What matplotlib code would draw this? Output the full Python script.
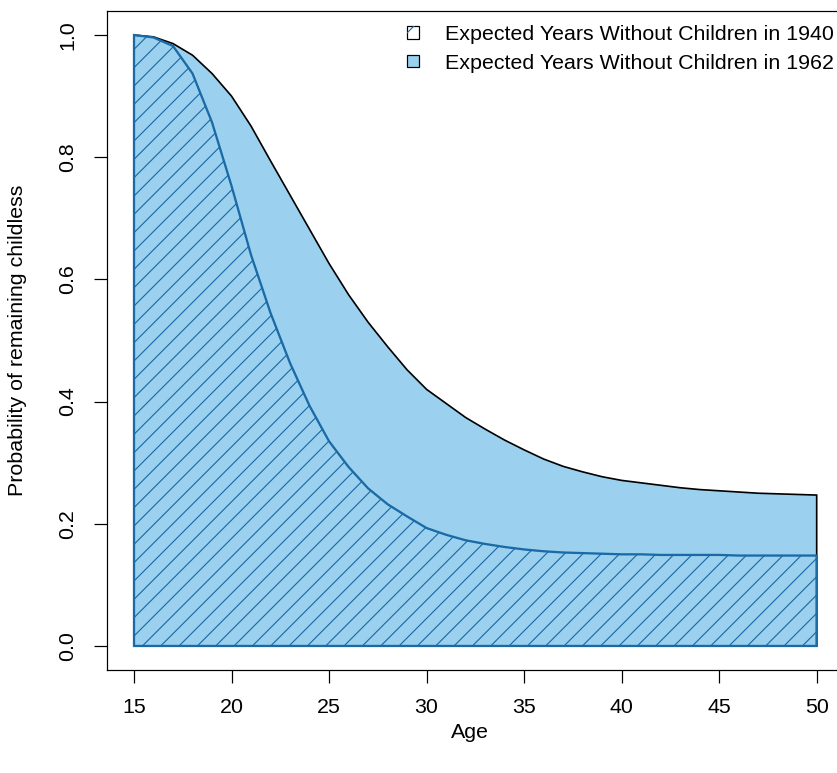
import matplotlib
matplotlib.use("Agg")
import matplotlib.pyplot as plt
from matplotlib.patches import Patch
import numpy as np

plt.rcParams['font.family'] = ['Liberation Sans', 'DejaVu Sans']
plt.rcParams['hatch.linewidth'] = 0.75

# ages and probability of remaining childless
ages = list(range(15, 51))
p1962 = [1.000, 0.997, 0.986, 0.967, 0.937, 0.900, 0.851, 0.794, 0.738, 0.682,
         0.626, 0.575, 0.530, 0.490, 0.452, 0.420, 0.397, 0.374, 0.355, 0.337,
         0.321, 0.306, 0.294, 0.285, 0.277, 0.271, 0.267, 0.263, 0.259, 0.256,
         0.254, 0.252, 0.250, 0.249, 0.248, 0.247]
p1940 = [1.000, 0.996, 0.982, 0.937, 0.857, 0.753, 0.640, 0.545, 0.463, 0.393,
         0.335, 0.293, 0.258, 0.232, 0.212, 0.193, 0.182, 0.173, 0.167, 0.162,
         0.158, 0.155, 0.153, 0.152, 0.151, 0.150, 0.150, 0.149, 0.149, 0.149,
         0.149, 0.148, 0.148, 0.148, 0.148, 0.148]
xticks = [15, 20, 25, 30, 35, 40, 45, 50]
yticks = [0.0, 0.2, 0.4, 0.6, 0.8, 1.0]
labels = ["Expected Years Without Children in 1940",
          "Expected Years Without Children in 1962"]

light = "#9BD1EF"
blue = "#1A6AA6"
fs = 14

W, H, dpi = 837, 773, 110
fig = plt.figure(figsize=(W / dpi, H / dpi), dpi=dpi)
ax = fig.add_axes([106.7 / W, 1 - 670.4 / H, (844 - 106.7) / W, (670.4 - 10.6) / H])

x = np.array(ages, dtype=float)
y62 = np.array(p1962)
y40 = np.array(p1940)

# polygons closed down to zero, like R's polygon()
px = np.concatenate([[x[0]], x, [x[-1]]])
ax.fill(px, np.concatenate([[0], y62, [0]]), facecolor=light, edgecolor="black", lw=1.1)
ax.fill(px, np.concatenate([[0], y40, [0]]), facecolor="none", edgecolor=blue, lw=1.5, hatch="//")

ax.set_xlim(13.6, 51.4)
ax.set_ylim(-0.04, 1.04)
ax.set_xticks(xticks)
ax.set_xticklabels([str(t) for t in xticks])
ax.set_yticks(yticks)
ax.set_yticklabels(["%.1f" % t for t in yticks], rotation=90, va="center")
ax.tick_params(length=8.3, width=0.8, labelsize=fs)
ax.tick_params(axis="x", pad=10)
ax.tick_params(axis="y", pad=11)
for s in ax.spines.values():
    s.set_linewidth(0.8)

fig.text(470 / W, 1 - 733 / H, "Age", ha="center", va="center", fontsize=fs)
fig.text(18 / W, 1 - 340 / H, "Probability of remaining childless", rotation=90,
         ha="center", va="center", fontsize=fs)

h1 = (Patch(facecolor="white", edgecolor="black", lw=0.8),
      Patch(facecolor="none", edgecolor=blue, lw=0, hatch="//"))
h2 = Patch(facecolor=light, edgecolor="black", lw=0.8)
fig.legend([h1, h2], labels, loc="upper right", bbox_to_anchor=(834 / W, 1 - 25 / H),
           frameon=False, fontsize=fs, handlelength=0.56, handleheight=0.5,
           handletextpad=1.2, labelspacing=0.45, borderpad=0, borderaxespad=0)

fig.savefig("out.png", dpi=dpi)
